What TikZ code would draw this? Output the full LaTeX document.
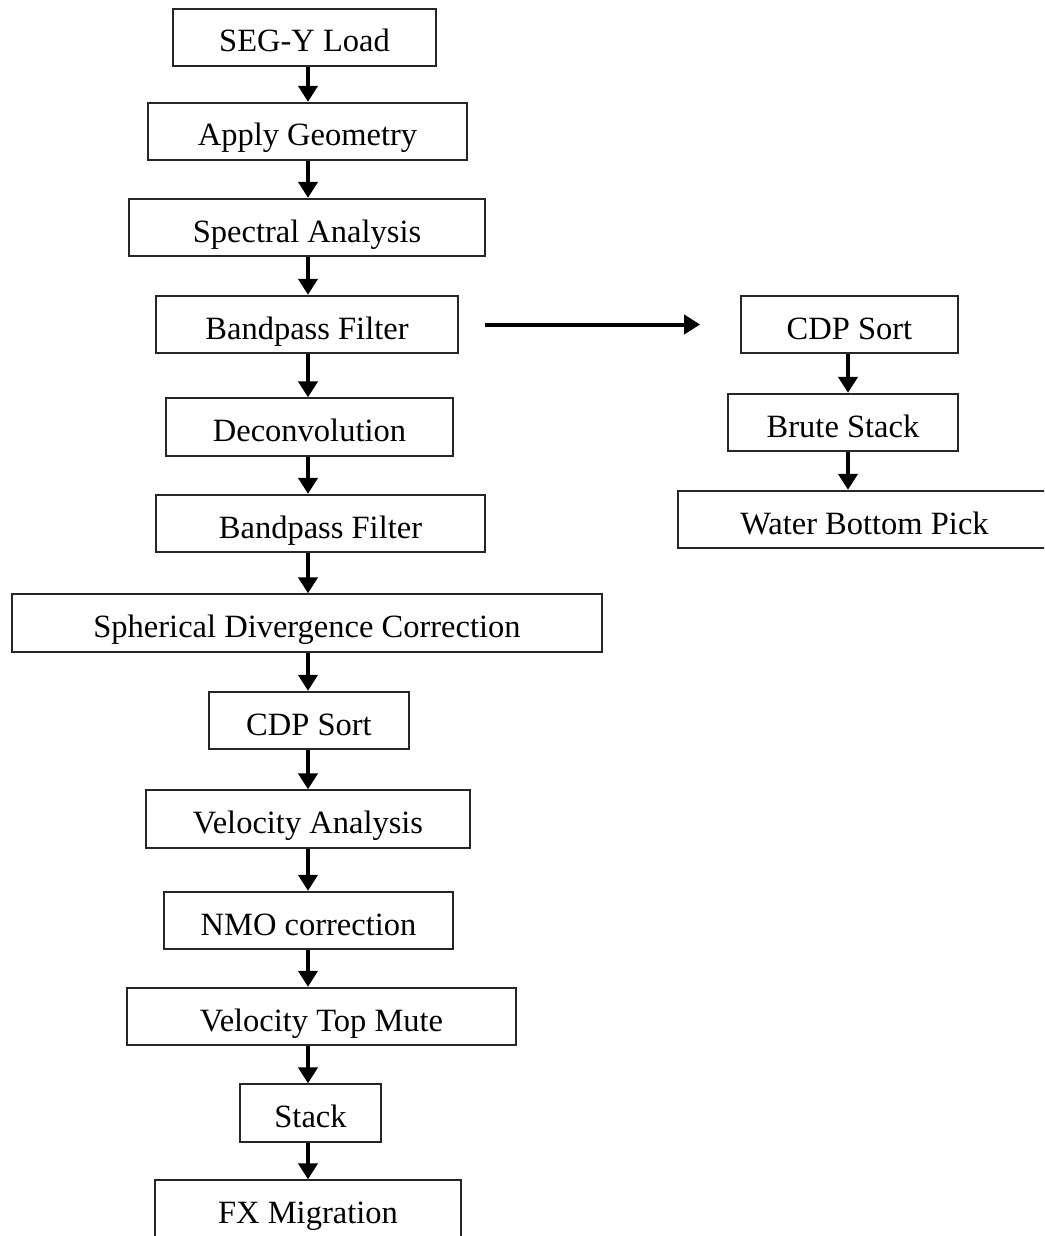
\documentclass[tikz,border=0pt]{standalone}
\usepackage{fontspec}
\setmainfont{Liberation Serif}
\usetikzlibrary{arrows.meta}

\begin{document}
\begin{tikzpicture}[x=1pt, y=-1pt,
		box/.style={draw=black!85, line width=1.8pt, minimum height=57.5pt, inner sep=0pt,
			text height=29pt, text depth=0pt, font=\fontsize{32.5}{38}\selectfont},
		arr/.style={line width=4pt, -{Triangle[width=19pt,length=16pt]}}]
			\useasboundingbox (0,0) rectangle (1044,1236);
			\clip (0,0) rectangle (1044,1236);
			\foreach \n/\x/\y/\w/\t in {1/304.5/37.5/263/SEG-Y Load, 2/307.5/131.5/319/Apply Geometry,
				3/307/227.5/356/Spectral Analysis, 4/307/324.5/302/Bandpass Filter,
				5/309.5/427/287/Deconvolution, 6/320.5/523.5/329/Bandpass Filter,
				7/307/623/590/Spherical Divergence Correction, 8/309/720.5/200/CDP Sort,
				9/308/819/324/Velocity Analysis, 10/308.5/920.5/289/NMO correction,
				11/321.5/1016.5/389/Velocity Top Mute, 12/310.5/1113/141/Stack,
				13/308/1209/306/FX Migration}{
				\node[box, minimum width=\w pt] (s\n) at (\x,\y) {\t};
			}
			\foreach \n/\x/\y/\w/\t in {1/849.5/324.5/217/CDP Sort, 2/843/422.5/230/Brute Stack,
				3/864.5/519.5/373/Water Bottom Pick}{
				\node[box, minimum width=\w pt] (r\n) at (\x,\y) {\t};
			}
			\coordinate (ax) at (308,0);
			\coordinate (bx) at (848,0);
			\foreach \a/\b in {1/2,2/3,3/4,4/5,5/6,6/7,7/8,8/9,9/10,10/11,11/12,12/13}{
				\draw[arr] (s\a.south -| ax) -- (s\b.north -| ax);
			}
			\foreach \a/\b in {1/2,2/3}{
				\draw[arr] (r\a.south -| bx) -- (r\b.north -| bx);
			}
			\draw[arr, shorten <=26pt, shorten >=40pt] (s4.east) -- (r1.west);
		\end{tikzpicture}
\end{document}
